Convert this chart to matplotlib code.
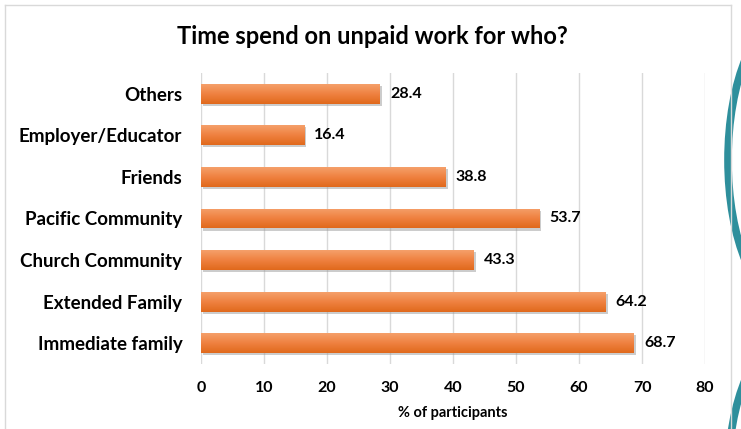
import numpy as np
import matplotlib.pyplot as plt
from matplotlib.patches import Ellipse
from matplotlib import patheffects as pe
from matplotlib.colors import LinearSegmentedColormap

categories = ["Immediate family", "Extended Family", "Church Community",
              "Pacific Community", "Friends", "Employer/Educator", "Others"]
values = [68.7, 64.2, 43.3, 53.7, 38.8, 16.4, 28.4]
xticks = [0, 10, 20, 30, 40, 50, 60, 70, 80]

plt.rcParams['font.family'] = ['Lato', 'DejaVu Sans']

fig = plt.figure(figsize=(7.41, 4.29), dpi=100)
W, H = 741, 429

# decoration layer (slide frame + teal arcs), in pixel coords
deco = fig.add_axes([0, 0, 1, 1], zorder=0)
deco.set_xlim(0, W)
deco.set_ylim(H, 0)
deco.axis('off')
deco.plot([5, 731], [5, 5], color='#d9d9d9', lw=1)
deco.plot([5, 5], [5, H], color='#d9d9d9', lw=1)
deco.plot([731, 731], [5, H], color='#d9d9d9', lw=1)
teal = '#2e8f9c'
deco.add_patch(Ellipse((790, 160), 124, 290, fill=False, ec=teal, lw=5.5))
deco.add_patch(Ellipse((790, 478), 124, 284, fill=False, ec=teal, lw=5.5))

ax = fig.add_axes([201 / W, 1 - 364 / H, (705 - 201) / W, (364 - 73) / H], zorder=1)
ax.patch.set_alpha(0)

y = np.arange(len(categories))
bars = ax.barh(y, values, height=0.48, color='#ed7d31', zorder=3,
               path_effects=[pe.SimplePatchShadow(offset=(1.5, -1.5), shadow_rgbFace='#9a9a9a', alpha=0.5),
                             pe.Normal()])

grad = LinearSegmentedColormap.from_list('g', ['#e0691c', '#ef8140', '#f5a06a'])
gimg = np.linspace(0, 1, 64).reshape(-1, 1)
for b in bars:
    x0, y0 = b.get_x(), b.get_y()
    im = ax.imshow(gimg, extent=[x0, x0 + b.get_width(), y0, y0 + b.get_height()],
                   origin='lower', aspect='auto', cmap=grad, zorder=4)
    im.set_clip_path(b)

for yi, v in zip(y, values):
    ax.text(v + 1.6, yi, f"{v:.1f}", va='center', ha='left',
            fontsize=11.5, fontweight='bold', color='black')

ax.set_xlim(0, 80)
ax.set_ylim(-0.5, len(categories) - 0.5)
ax.set_xticks(xticks)
ax.set_yticks(y)
ax.set_yticklabels(categories, fontsize=13.5, fontweight='bold')
ax.tick_params(axis='x', labelsize=11.5, length=0, pad=12)
ax.tick_params(axis='y', length=0, pad=13.5)
for t in ax.get_xticklabels():
    t.set_fontweight('bold')
ax.grid(axis='x', color='#d9d9d9', lw=1, zorder=0)
for s in ax.spines.values():
    s.set_visible(False)
ax.set_xlabel("% of participants", fontsize=10.5, fontweight='bold', labelpad=8)

fig.text(372 / W, 1 - 37 / H, "Time spend on unpaid work for who?",
         ha='center', va='center', fontsize=17, fontweight='bold')

fig.savefig('out.png', dpi=100)
